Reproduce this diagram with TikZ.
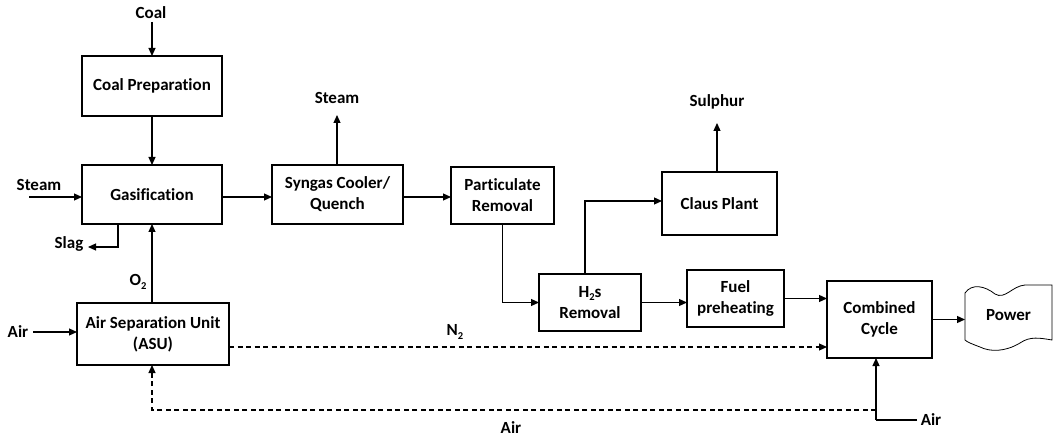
\documentclass[tikz,border=0pt]{standalone}
\usepackage{fontspec}
\setmainfont{Carlito}[Ligatures=CommonOff]
\usetikzlibrary{arrows.meta}
\newcommand\mysub[1]{\raisebox{-0.2em}{\fontsize{10.5}{10.5}\selectfont #1}}
\begin{document}
\begin{tikzpicture}[x=1pt,y=-1pt,
  every node/.style={font=\fontsize{17}{21}\selectfont\bfseries, inner sep=0pt, outer sep=0pt},
  box/.style={draw, line width=1.5pt, align=center, fill=white},
  arr/.style={line width=1.2pt, -{Triangle[length=8pt,width=7pt]}},
  ln/.style={line width=1.2pt},
  dsh/.style={line width=1.2pt, dash pattern=on 5pt off 3.5pt},
  lbl/.style={}]
\useasboundingbox (0,0) rectangle (1055,438);

% boxes
\node[box, minimum width=140pt, minimum height=60pt] (prep) at (152,86) {Coal Preparation};
\node[box, minimum width=140pt, minimum height=59pt] (gas) at (152,194.5) {Gasification};
\node[box, minimum width=152pt, minimum height=62pt] (asu) at (153,334) {Air Separation Unit\\(ASU)};
\node[box, minimum width=131pt, minimum height=59pt] (syn) at (337.5,194.5) {Syngas Cooler/\\Quench};
\node[box, minimum width=103pt, minimum height=57pt] (part) at (502.5,195.5) {Particulate\\Removal};
\node[box, minimum width=102pt, minimum height=57pt] (h2s) at (590,302.5) {H\mysub{2}s\\Removal};
\node[box, minimum width=115pt, minimum height=63pt] (claus) at (719.5,203.5) {Claus Plant};
\node[box, minimum width=97pt, minimum height=57pt] (fuel) at (735.5,298.5) {Fuel\\preheating};
\node[box, minimum width=105pt, minimum height=77pt] (comb) at (879.5,319.5) {Combined\\Cycle};

% power (wavy shape)
\draw[line width=0.8pt] (965,293) .. controls (972,283) and (985,286) .. (995,294)
  .. controls (1005,300) and (1012,286) .. (1025,285) -- (1052,285) -- (1052,340)
  .. controls (1040,338) and (1030,336) .. (1020,343)
  .. controls (1005,352) and (990,352) .. (980,347)
  .. controls (972,344) and (967,342) .. (965,340) -- cycle;
\node (power) at (1008.5,315) {Power};
\coordinate (powin) at (965,319.5);

% labels
\node (coal) at (151,13) {Coal};
\node (steamL) at (39,185) {Steam};
\node (slag) at (69,244) {Slag};
\node (o2) at (138,282) {O\mysub{2}};
\node (airL) at (18,332) {Air};
\node (steamT) at (337,98) {Steam};
\node (sulphur) at (717,102) {Sulphur};
\node (n2) at (455,332) {N\mysub{2}};
\node (airB) at (511,428) {Air};
\node (airR) at (931,420) {Air};

% free ends
\coordinate (coalS) at (152,22);
\coordinate (steamS) at (29,197);
\coordinate (slagC) at (118,247);
\coordinate (slagE) at (88,247);
\coordinate (airS) at (33,332);
\coordinate (steamE) at (337,115);
\coordinate (sulE) at (717,123);
\coordinate (h2sUp) at (585,201);
\coordinate (airRS) at (917,420);
\coordinate (airV) at (876,420);
\coordinate (dashR) at (876,410);
\coordinate (dashL) at (152,410);

% connectors
\draw[arr] (coalS) -- (prep.north);
\draw[arr] (prep.south) -- (gas.north);
\draw[arr] (steamS) -- (steamS -| gas.west);
\draw[arr] (gas.south -| slagC) |- (slagE);
\draw[arr] (asu.north -| gas.south) -- (gas.south);
\draw[arr] (airS) -- (airS -| asu.west);
\draw[arr] (gas.east |- steamS) -- (syn.west |- steamS);
\draw[arr] (syn.north -| steamE) -- (steamE);
\draw[arr] (syn.east |- steamS) -- (part.west |- steamS);
\draw[arr] (part.south) |- (h2s.west);
\draw[arr] (h2s.north -| h2sUp) |- (claus.west |- h2sUp);
\draw[arr] (claus.north -| sulE) -- (sulE);
\draw[arr] (h2s.east) -- (fuel.west |- h2s.east);
\draw[arr] (fuel.east) -- (comb.west |- fuel.east);
\draw[arr] (comb.east) -- (powin);
\draw[dsh, -{Triangle[length=8pt,width=7pt]}] (asu.east |- 0,347) -- (comb.west |- 0,347);
\draw[ln] (airRS) -- (airV);
\draw[arr] (airV) -- (comb.south -| airV);
\draw[dsh, -{Triangle[length=8pt,width=7pt]}] (dashR) -- (dashL) -- (asu.south -| dashL);
\end{tikzpicture}
\end{document}
